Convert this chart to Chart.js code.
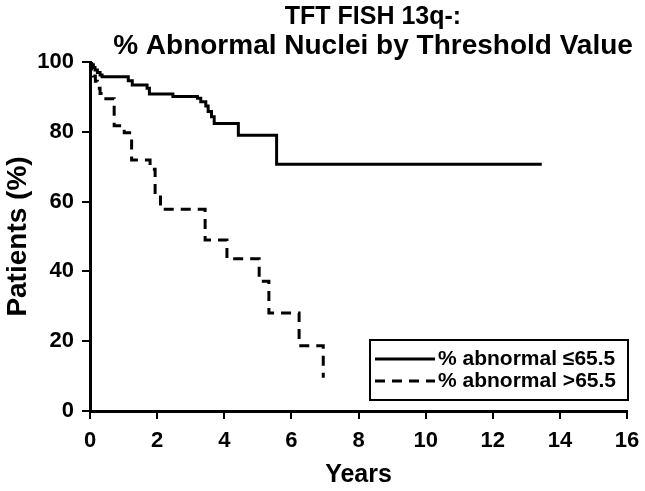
<!DOCTYPE html>
<html>
<head>
<meta charset="utf-8">
<script src="https://cdn.jsdelivr.net/npm/chart.js@4/dist/chart.umd.min.js"></script>
<style>
html,body{margin:0;padding:0;background:#fff;}
#wrap{width:645px;height:491px;}
</style>
</head>
<body>
<div id="wrap"><canvas id="c" width="645" height="491"></canvas></div>
<script>
// ---- data ----
const titleLines = ["TFT FISH 13q-:", "% Abnormal Nuclei by Threshold Value"];
const xTitle = "Years";
const yTitle = "Patients (%)";
const seriesLabels = ["% abnormal \u226465.5", "% abnormal >65.5"];

const lowYears  = [0, 0.05, 0.1, 0.15, 0.22, 0.3, 0.36, 1.14, 1.26, 1.7, 1.77, 2.47, 3.2, 3.3, 3.45, 3.52, 3.62, 3.7, 4.42, 5.56, 13.46];
const lowPct    = [100, 99.2, 98.4, 97.7, 97.0, 96.3, 95.8, 94.6, 93.4, 92.5, 90.8, 90.1, 89.6, 88.6, 87.4, 85.8, 84.3, 82.4, 79.0, 70.7, 70.7];

const highYears = [0, 0.04, 0.1, 0.16, 0.22, 0.3, 0.42, 0.72, 1.02, 1.24, 1.79, 1.94, 2.1, 3.43, 4.08, 5.04, 5.33, 6.23, 6.95];
const highPct   = [100, 98, 96, 94.5, 92.5, 91, 89.5, 81.7, 79.7, 71.9, 69.3, 62, 57.8, 49, 43.6, 37.2, 28.1, 18.7, 9.5];

const xTicks = [0, 2, 4, 6, 8, 10, 12, 14, 16];
const yTicks = [0, 20, 40, 60, 80, 100];

const toPts = (xs, ys) => xs.map((x, i) => ({x: x, y: ys[i]}));

const FONT = "'Liberation Sans', Arial, sans-serif";

const titlePlugin = {
  id: 'twoLineTitle',
  afterDraw(chart) {
    const ctx = chart.ctx;
    ctx.save();
    ctx.fillStyle = '#000';
    ctx.textAlign = 'center';
    ctx.textBaseline = 'middle';
    ctx.font = "bold 25px " + FONT;
    ctx.fillText(titleLines[0], 373, 17);
    ctx.font = "bold 28px " + FONT;
    ctx.fillText(titleLines[1], 373, 46);
    ctx.restore();
  }
};

const legendPlugin = {
  id: 'boxLegend',
  afterDraw(chart) {
    const ctx = chart.ctx, ca = chart.chartArea;
    const w = 258, h = 60;
    const right = ca.right + 1, bottom = ca.bottom - 11;
    const left = right - w, top = bottom - h;
    ctx.save();
    ctx.fillStyle = '#fff';
    ctx.fillRect(left, top, w, h);
    ctx.strokeStyle = '#000';
    ctx.lineWidth = 2;
    ctx.strokeRect(left, top, w, h);
    ctx.font = "bold 21px " + FONT;
    ctx.fillStyle = '#000';
    ctx.textBaseline = 'middle';
    ctx.textAlign = 'left';
    chart.data.datasets.forEach((ds, i) => {
      const y = top + 19 + i * 22;
      ctx.beginPath();
      ctx.setLineDash(ds.borderDash || []);
      ctx.lineWidth = 3;
      ctx.moveTo(left + 5, y);
      ctx.lineTo(left + 65, y);
      ctx.stroke();
      ctx.setLineDash([]);
      ctx.fillText(ds.label, left + 68, y);
    });
    ctx.restore();
  }
};

new Chart(document.getElementById('c'), {
  type: 'line',
  data: {
    datasets: [
      {
        label: seriesLabels[0],
        data: toPts(lowYears, lowPct),
        borderColor: '#000',
        borderWidth: 3,
        stepped: 'before',
        pointRadius: 0,
        fill: false
      },
      {
        label: seriesLabels[1],
        data: toPts(highYears, highPct),
        borderColor: '#000',
        borderWidth: 3,
        borderDash: [10, 7],
        stepped: 'before',
        pointRadius: 0,
        fill: false
      }
    ]
  },
  options: {
    responsive: false,
    animation: false,
    devicePixelRatio: 1,
    layout: { padding: { top: 62, right: 0, left: 0, bottom: 0 } },
    plugins: {
      legend: { display: false },
      title: { display: false },
      tooltip: { enabled: false }
    },
    scales: {
      x: {
        type: 'linear',
        min: 0, max: 16,
        afterBuildTicks(scale) { scale.ticks = xTicks.map(v => ({value: v})); },
        afterFit(scale) { scale.height = 80; scale.paddingRight = 18; scale.paddingLeft = 0; },
        grid: { display: true, drawOnChartArea: false, drawTicks: true, tickLength: 8, color: '#000', lineWidth: 2 },
        border: { display: true, color: '#000', width: 3 },
        ticks: { color: '#000', font: { family: FONT, size: 22, weight: 'bold' }, padding: 9, maxRotation: 0 },
        title: { display: true, text: xTitle, color: '#000', font: { family: FONT, size: 25, weight: 'bold' }, padding: { top: 0, bottom: 1 } }
      },
      y: {
        type: 'linear',
        min: 0, max: 100,
        afterBuildTicks(scale) { scale.ticks = yTicks.map(v => ({value: v})); },
        afterFit(scale) { scale.width = 90; },
        grid: { display: true, drawOnChartArea: false, drawTicks: true, tickLength: 8, color: '#000', lineWidth: 2 },
        border: { display: true, color: '#000', width: 3 },
        ticks: { color: '#000', font: { family: FONT, size: 22, weight: 'bold' }, padding: 8 },
        title: { display: true, text: yTitle, color: '#000', font: { family: FONT, size: 28, weight: 'bold' }, padding: { top: 1, bottom: 0 } }
      }
    }
  },
  plugins: [titlePlugin, legendPlugin]
});
</script>
</body>
</html>
